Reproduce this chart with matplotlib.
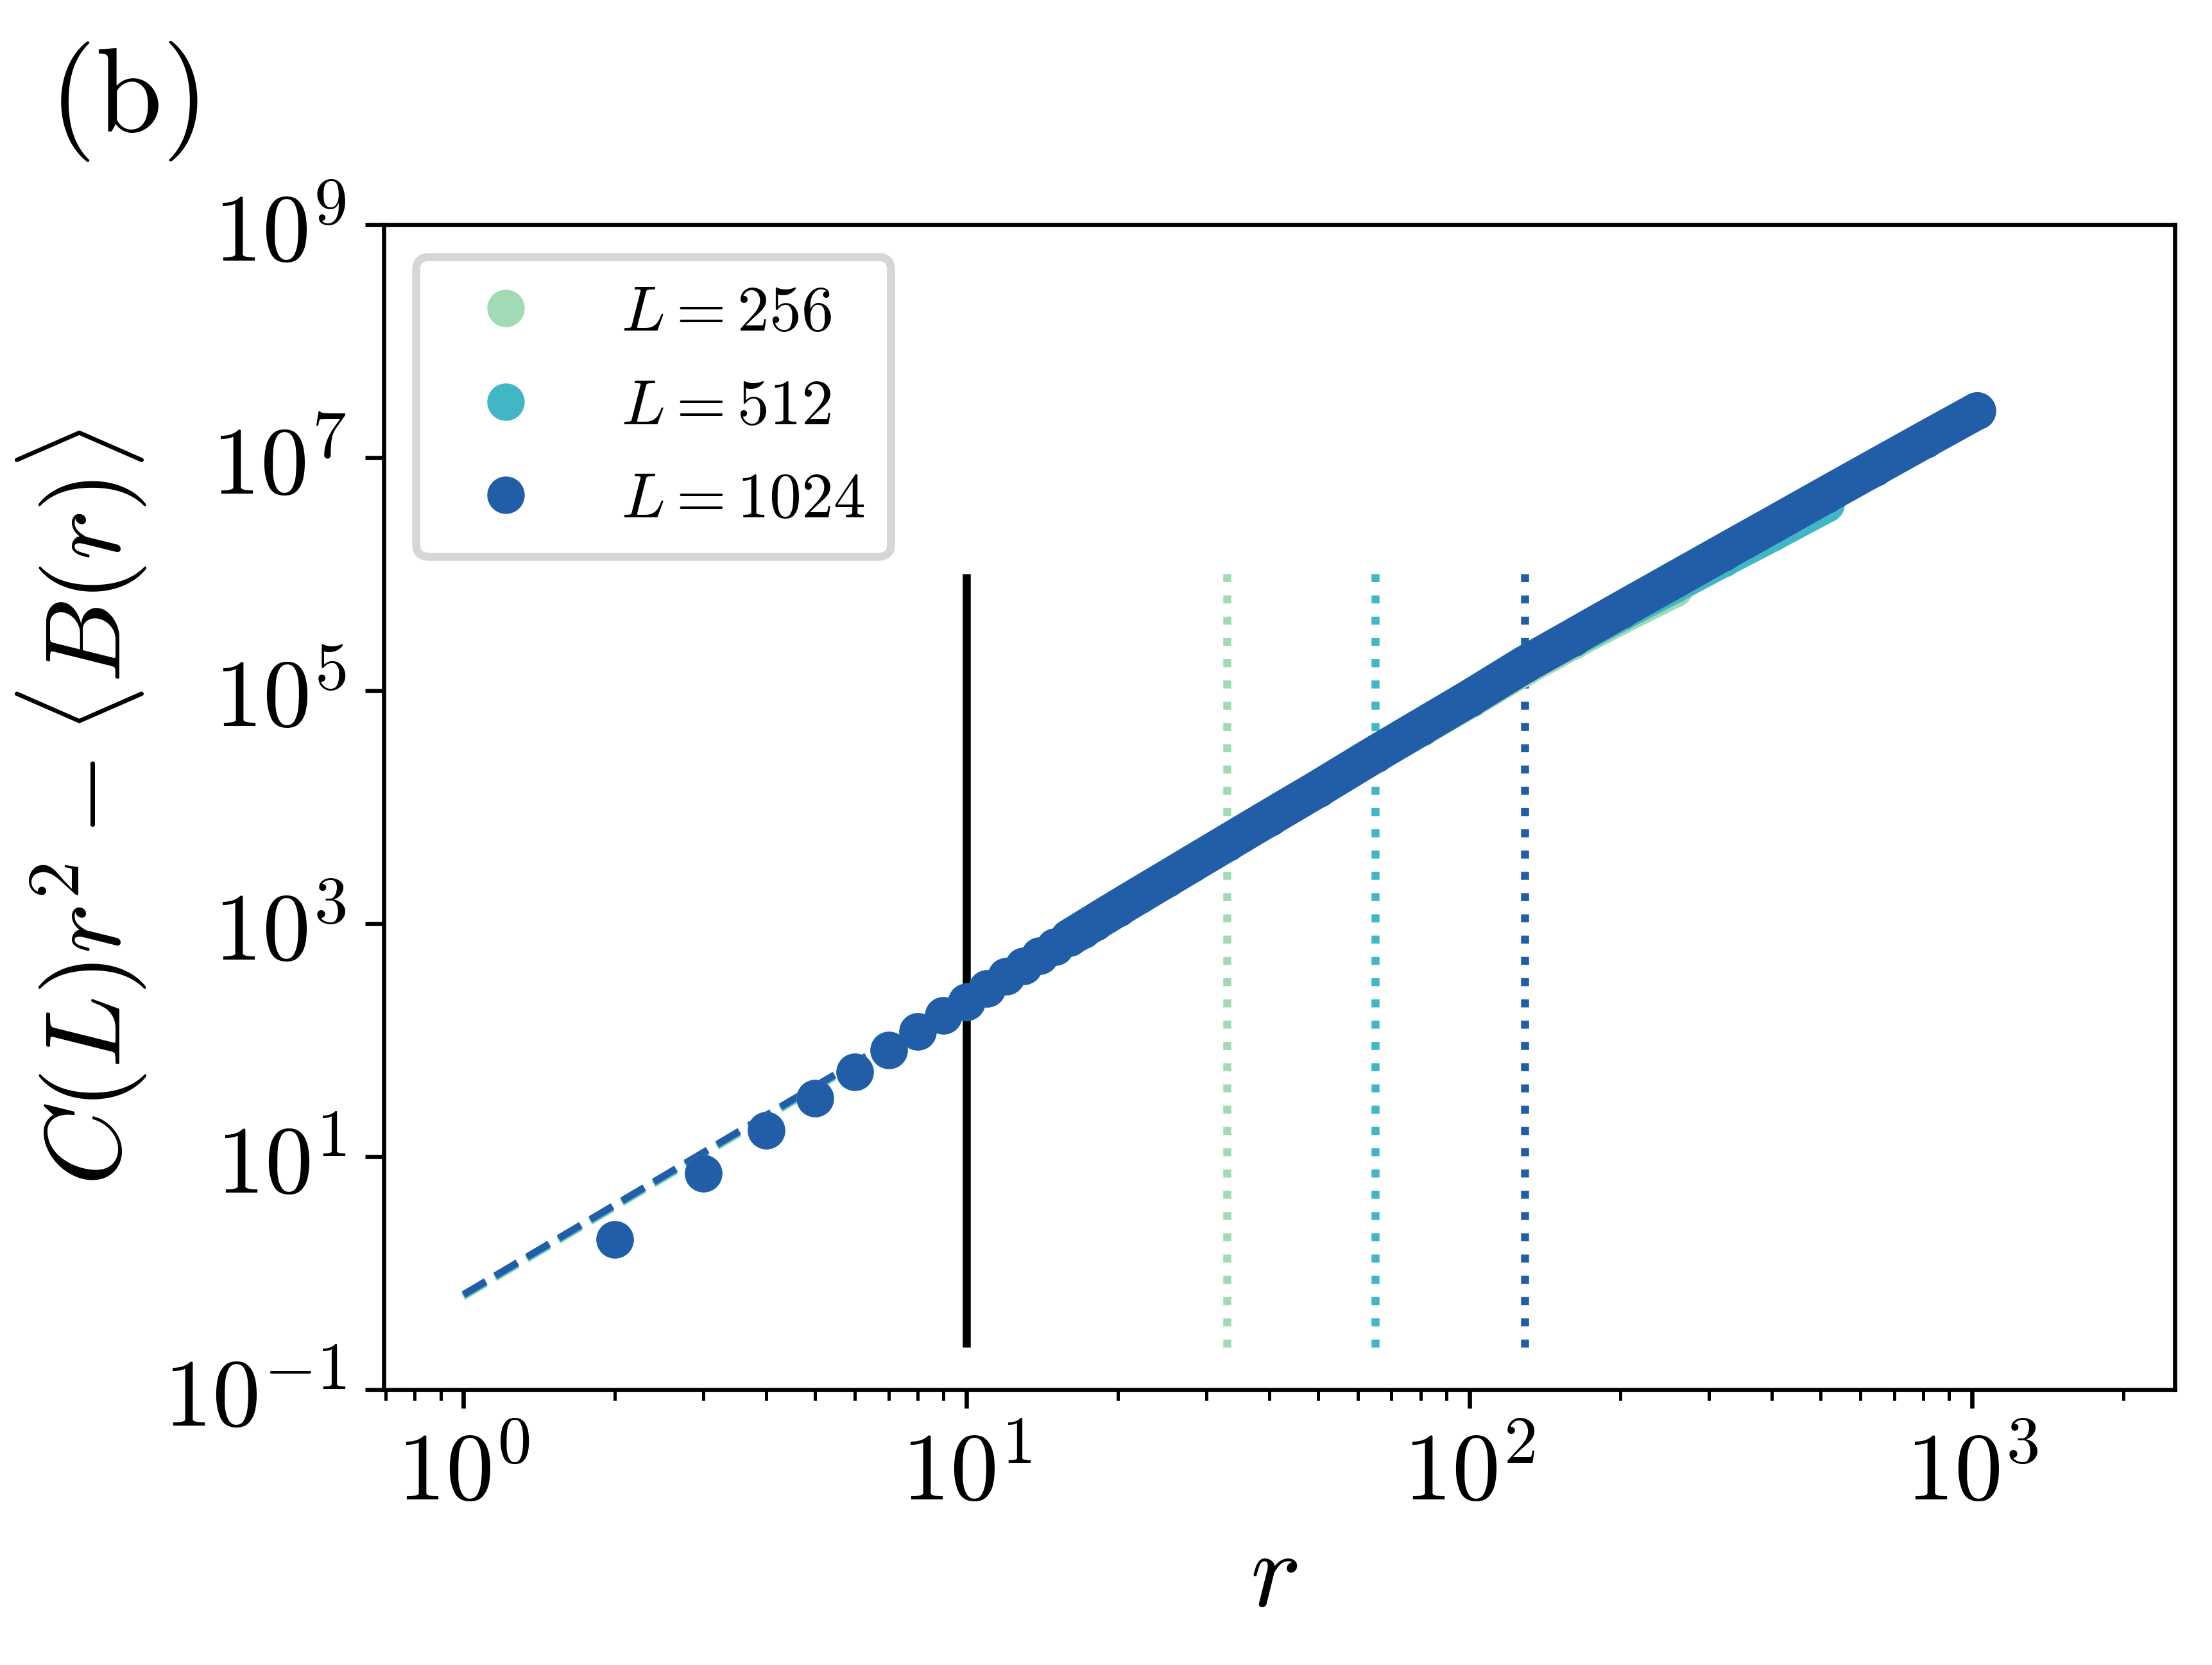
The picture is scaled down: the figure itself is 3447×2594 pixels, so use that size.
import matplotlib
matplotlib.use('Agg')
import matplotlib.pyplot as plt
from matplotlib.ticker import FixedLocator, FixedFormatter, NullLocator

plt.rcParams['mathtext.fontset'] = 'cm'
plt.rcParams['font.family'] = 'serif'
plt.rcParams['font.serif'] = ['DejaVu Serif']

# system sizes and colours (YlGnBu)
L_values = [256, 512, 1024]
colors = ['#a1dab4', '#41b6c4', '#225ea8']

r_nodes = [2, 3, 4, 5, 6, 7, 8, 9, 10, 11, 12, 13, 14, 15, 16, 17, 18, 19, 20,
           22, 25, 28, 33, 40, 50, 65, 80, 100, 129, 160, 200, 256,
           320, 400, 512, 640, 807, 1024]

# C(L) r^2 - <B(r)> for L = 1024
vals_1024 = [1.95, 7.2, 16.8, 31.8, 53, 82, 118, 162, 213, 279, 351, 434, 528, 634,
             752, 883, 1028, 1186, 1358, 1738, 2415, 3236, 4943, 8110, 14320,
             28500, 48400, 85500, 1.68e5, 2.84e5, 4.91e5, 8.93e5,
             1.535e6, 2.63e6, 4.79e6, 8.2e6, 1.43e7, 2.52e7]

# L = 512 (same nodes up to r = 512)
vals_512 = [1.95, 7.2, 16.8, 31.8, 53, 82, 118, 162, 213, 279, 351, 434, 528, 634,
            752, 883, 1028, 1186, 1358, 1738, 2415, 3236, 4943, 8110, 14320,
            28500, 48400, 85500, 1.68e5, 2.78e5, 4.69e5, 8.22e5,
            1.37e6, 2.26e6, 3.99e6]

# L = 256 (same nodes up to r = 256)
vals_256 = [1.95, 7.2, 16.8, 31.8, 53, 82, 118, 162, 213, 279, 351, 434, 528, 634,
            752, 883, 1028, 1186, 1358, 1738, 2415, 3236, 4943, 8110, 14320,
            28500, 47800, 83500, 1.60e5, 2.66e5, 4.4e5, 7.5e5]

series_vals = [vals_256, vals_512, vals_1024]

# power-law fits (dashed), endpoints r = 1 and r = L
fit_start = [0.625, 0.640, 0.656]
fit_end = [8.9e5, 5.38e6, 3.24e7]

# vertical markers
r_black = 10
r_dotted = [33, 65, 129]
vline_lo, vline_hi = 0.23, 1e6

xtick_vals = [1, 10, 100, 1000]
xtick_labels = [r'$10^{0}$', r'$10^{1}$', r'$10^{2}$', r'$10^{3}$']
ytick_vals = [1e-1, 1e1, 1e3, 1e5, 1e7, 1e9]
ytick_labels = [r'$10^{-1}$', r'$10^{1}$', r'$10^{3}$', r'$10^{5}$', r'$10^{7}$', r'$10^{9}$']

fig = plt.figure(figsize=(3447 / 600, 2594 / 600), dpi=600)
ax = fig.add_axes([0.1735, 0.1654, 0.8097, 0.6997])

# fits under everything
for L, c, a, b in zip(L_values, colors, fit_start, fit_end):
    ax.plot([1, L], [a, b], '--', color=c, lw=1.3, zorder=1)

ax.vlines(r_black, vline_lo, vline_hi, color='black', lw=1.5, zorder=1)
for rd, c in zip(r_dotted, colors):
    ax.vlines(rd, vline_lo, vline_hi, color=c, lw=1.5, linestyles=':', zorder=1)

# data: dense points drawn as beads + thick band
for L, c, v in zip(L_values, colors, series_vals):
    rr = r_nodes[:len(v)]
    ax.plot(rr[14:], v[14:], '-', color=c, lw=7, solid_capstyle='round',
            solid_joinstyle='round', zorder=2)
    ax.plot(rr, v, 'o', color=c, ms=6, zorder=2, label=r'$L = %d$' % L)

ax.set_xscale('log')
ax.set_yscale('log')
ax.set_xlim(0.694, 2530)
ax.set_ylim(1e-1, 1e9)

ax.xaxis.set_major_locator(FixedLocator(xtick_vals))
ax.xaxis.set_major_formatter(FixedFormatter(xtick_labels))
ax.yaxis.set_major_locator(FixedLocator(ytick_vals))
ax.yaxis.set_major_formatter(FixedFormatter(ytick_labels))
ax.yaxis.set_minor_locator(NullLocator())
ax.tick_params(axis='both', which='major', labelsize=18)

ax.set_xlabel(r'$r$', fontsize=20)
ax.set_ylabel(r'$C(L)r^2 - \langle B(r) \rangle$', fontsize=20)
ax.xaxis.set_label_coords(0.497, -0.116)
ax.yaxis.set_label_coords(-0.131, 0.5)

leg = ax.legend(loc='upper left', fontsize=12)
leg.get_frame().set_linewidth(1.5)

fig.text(0.022, 0.921, r'$\mathrm{(b)}$', fontsize=22.5, ha='left', va='baseline')

fig.savefig('out.png', dpi=600)
